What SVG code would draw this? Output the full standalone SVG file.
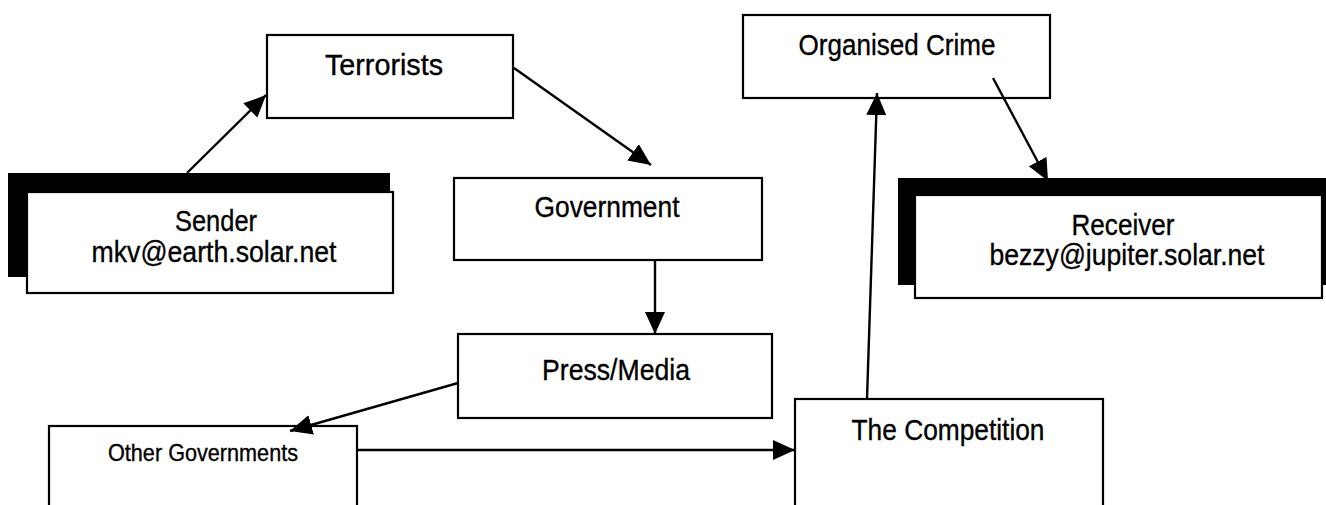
<svg xmlns="http://www.w3.org/2000/svg" width="1326" height="505" viewBox="0 0 1326 505">
<defs>
<style>
.box{fill:#fff;stroke:#000;stroke-width:2.2}
.shadow{fill:#000}
.lbl{font-family:"Liberation Sans",Arial,sans-serif;font-size:30px;fill:#000;stroke:#000;stroke-width:0.35;text-anchor:middle}
.sm{font-size:24px}
.conn{stroke:#000;stroke-width:2.4;fill:none;marker-end:url(#ah)}
</style>
<marker id="ah" markerUnits="userSpaceOnUse" markerWidth="24" markerHeight="22" refX="22" refY="10" orient="auto">
<path d="M0,0 L22,10 L0,20 z" fill="#000"/>
</marker>
</defs>
<rect width="1326" height="505" fill="#fff"/>
<g id="sender">
<rect class="shadow" x="8" y="173" width="382" height="104"/>
<rect class="box" x="27" y="192" width="366" height="101"/>
<text class="lbl" x="216" y="231" textLength="82" lengthAdjust="spacingAndGlyphs">Sender</text>
<text class="lbl" x="214" y="262" textLength="245" lengthAdjust="spacingAndGlyphs">mkv@earth.solar.net</text>
</g>
<g id="receiver">
<rect class="shadow" x="898" y="178" width="430" height="107"/>
<rect class="box" x="915" y="195" width="407" height="103"/>
<text class="lbl" x="1123" y="235" textLength="103" lengthAdjust="spacingAndGlyphs">Receiver</text>
<text class="lbl" x="1127" y="265" textLength="275" lengthAdjust="spacingAndGlyphs">bezzy@jupiter.solar.net</text>
</g>
<g id="terrorists">
<rect class="box" x="267" y="35" width="246" height="83"/>
<text class="lbl" x="384" y="75" textLength="118" lengthAdjust="spacingAndGlyphs">Terrorists</text>
</g>
<g id="organised-crime">
<rect class="box" x="743" y="15" width="307" height="83"/>
<text class="lbl" x="897" y="55" textLength="197" lengthAdjust="spacingAndGlyphs">Organised Crime</text>
</g>
<g id="government">
<rect class="box" x="454" y="178" width="308" height="82"/>
<text class="lbl" x="607" y="217" textLength="145" lengthAdjust="spacingAndGlyphs">Government</text>
</g>
<g id="press-media">
<rect class="box" x="458" y="334" width="314" height="84"/>
<text class="lbl" x="616" y="380" textLength="148" lengthAdjust="spacingAndGlyphs">Press/Media</text>
</g>
<g id="other-governments">
<rect class="box" x="49" y="426" width="308" height="100"/>
<text class="lbl sm" x="203" y="461" textLength="190" lengthAdjust="spacingAndGlyphs">Other Governments</text>
</g>
<g id="competition">
<rect class="box" x="795" y="399" width="308" height="130"/>
<text class="lbl" x="948" y="440" textLength="193" lengthAdjust="spacingAndGlyphs">The Competition</text>
</g>
<g id="connectors">
<line class="conn" x1="187" y1="173" x2="266" y2="95"/>
<line class="conn" x1="514" y1="68" x2="651" y2="165"/>
<line class="conn" x1="993" y1="78" x2="1048" y2="181"/>
<line class="conn" x1="867" y1="399" x2="877" y2="93"/>
<line class="conn" x1="655" y1="260" x2="655" y2="334"/>
<line class="conn" x1="458" y1="383" x2="290" y2="431"/>
<line class="conn" x1="357" y1="450" x2="795" y2="450"/>
</g>
</svg>
